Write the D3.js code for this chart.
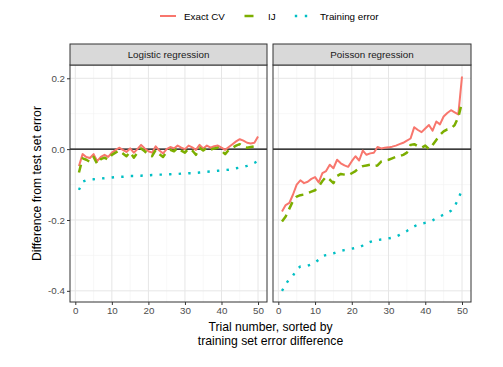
<!DOCTYPE html>
<html><head><meta charset="utf-8">
<script src="https://cdn.jsdelivr.net/npm/d3@7"></script>
<style>body{margin:0;background:#fff}svg{display:block;font-family:"Liberation Sans",Arial,Helvetica,sans-serif}</style>
</head><body><svg id="c" width="503" height="367"></svg>
<script>
const trials = d3.range(1, 51);
const panels = ["Logistic regression", "Poisson regression"];
const seriesNames = ["Exact CV", "IJ", "Training error"];
const xTicks = [0, 10, 20, 30, 40, 50];
const yTicks = [-0.4, -0.2, 0.0, 0.2];

const logisticExactCV = [-0.048,-0.014,-0.022,-0.025,-0.014,-0.034,-0.022,-0.016,-0.022,-0.010,
 -0.003,0.004,-0.002,-0.008,0.002,-0.010,0.000,0.012,0.002,-0.006,
 -0.010,0.008,-0.004,-0.012,0.000,0.006,0.002,0.010,0.004,0.000,
 0.010,0.005,-0.002,0.012,0.002,0.010,0.004,0.008,0.010,0.004,
 -0.002,0.006,0.014,0.022,0.028,0.024,0.018,0.016,0.018,0.036];
const logisticIJ = [-0.066,-0.026,-0.030,-0.036,-0.022,-0.042,-0.028,-0.024,-0.030,-0.016,
 -0.010,-0.004,-0.012,-0.020,-0.008,-0.024,-0.010,0.002,-0.006,-0.016,
 -0.020,-0.002,-0.014,-0.022,-0.008,-0.002,-0.006,0.004,-0.004,-0.010,
 0.002,-0.004,-0.016,0.004,-0.004,0.004,-0.002,0.002,0.004,-0.004,
 -0.014,-0.002,0.004,0.010,0.014,0.006,0.004,0.006,0.008,0.012];
const logisticTraining = [-0.115,-0.092,-0.088,-0.086,-0.085,-0.084,-0.083,-0.082,-0.081,-0.080,
 -0.079,-0.078,-0.078,-0.077,-0.076,-0.076,-0.075,-0.075,-0.074,-0.074,
 -0.073,-0.073,-0.072,-0.072,-0.071,-0.071,-0.070,-0.070,-0.069,-0.069,
 -0.068,-0.068,-0.067,-0.066,-0.065,-0.064,-0.063,-0.062,-0.061,-0.060,
 -0.059,-0.058,-0.056,-0.054,-0.052,-0.050,-0.047,-0.043,-0.039,-0.033];
const poissonExactCV = [-0.176,-0.158,-0.152,-0.128,-0.100,-0.088,-0.096,-0.092,-0.084,-0.079,
 -0.094,-0.068,-0.062,-0.044,-0.054,-0.030,-0.040,-0.046,-0.050,-0.034,
 -0.020,-0.032,-0.004,-0.016,-0.012,-0.010,0.006,0.002,0.004,0.005,
 0.007,0.010,0.014,0.018,0.024,0.030,0.062,0.054,0.048,0.058,
 0.068,0.052,0.078,0.070,0.092,0.102,0.110,0.104,0.098,0.205];
const poissonIJ = [-0.204,-0.190,-0.168,-0.146,-0.134,-0.130,-0.128,-0.124,-0.120,-0.116,
 -0.106,-0.090,-0.078,-0.086,-0.096,-0.076,-0.070,-0.072,-0.074,-0.068,
 -0.062,-0.054,-0.048,-0.046,-0.044,-0.048,-0.046,-0.035,-0.032,-0.030,
 -0.026,-0.022,-0.020,-0.016,-0.010,0.012,0.014,0.008,0.004,0.010,
 0.000,0.012,0.026,0.040,0.050,0.056,0.058,0.068,0.090,0.132];
const poissonTraining = [-0.400,-0.382,-0.366,-0.357,-0.340,-0.331,-0.330,-0.329,-0.325,-0.320,
 -0.312,-0.302,-0.299,-0.297,-0.294,-0.290,-0.287,-0.285,-0.283,-0.281,
 -0.279,-0.277,-0.272,-0.266,-0.262,-0.259,-0.257,-0.255,-0.254,-0.252,
 -0.250,-0.247,-0.242,-0.237,-0.231,-0.224,-0.218,-0.213,-0.210,-0.208,
 -0.206,-0.201,-0.195,-0.190,-0.185,-0.180,-0.174,-0.162,-0.140,-0.115];

const panelData = [
  [logisticExactCV, logisticIJ, logisticTraining],
  [poissonExactCV, poissonIJ, poissonTraining]
];
const colors = ["#F8766D", "#7CAE00", "#00BFC4"];
const widths = [2.0, 2.5, 2.4];
const dashes = [null, "8,6", "2.4,7.2"];

const svg = d3.select("#c");
const plotTop = 65, plotBottom = 302, stripTop = 44;
const panelX = [[70, 267], [273, 471]];
const y = d3.scaleLinear().domain([-0.4315, 0.2375]).range([plotBottom, plotTop]);
const tickFont = 9.8;

panels.forEach((name, pi) => {
  const [x0, x1] = panelX[pi];
  const x = d3.scaleLinear().domain([-1.45, 52.45]).range([x0, x1]);
  const g = svg.append("g");
  [5,15,25,35,45].forEach(v => g.append("line").attr("x1", x(v)).attr("x2", x(v)).attr("y1", plotTop).attr("y2", plotBottom).attr("stroke", "#f3f3f3").attr("stroke-width", 0.6));
  [-0.3,-0.1,0.1].forEach(v => g.append("line").attr("x1", x0).attr("x2", x1).attr("y1", y(v)).attr("y2", y(v)).attr("stroke", "#f3f3f3").attr("stroke-width", 0.6));
  xTicks.forEach(v => g.append("line").attr("x1", x(v)).attr("x2", x(v)).attr("y1", plotTop).attr("y2", plotBottom).attr("stroke", "#e6e6e6").attr("stroke-width", 1));
  yTicks.forEach(v => g.append("line").attr("x1", x0).attr("x2", x1).attr("y1", y(v)).attr("y2", y(v)).attr("stroke", "#e6e6e6").attr("stroke-width", 1));
  g.append("line").attr("x1", x0).attr("x2", x1).attr("y1", y(0)).attr("y2", y(0)).attr("stroke", "#000").attr("stroke-width", 1.1);
  const line = d3.line().x((d, i) => x(trials[i])).y(d => y(d));
  panelData[pi].forEach((vals, si) => {
    const p = g.append("path").datum(vals).attr("d", line).attr("fill", "none")
      .attr("stroke", colors[si]).attr("stroke-width", widths[si]).attr("stroke-linejoin", "round");
    if (dashes[si]) p.attr("stroke-dasharray", dashes[si]);
  });
  g.append("rect").attr("x", x0).attr("y", plotTop).attr("width", x1 - x0).attr("height", plotBottom - plotTop)
    .attr("fill", "none").attr("stroke", "#333").attr("stroke-width", 1);
  g.append("rect").attr("x", x0).attr("y", stripTop).attr("width", x1 - x0).attr("height", plotTop - stripTop)
    .attr("fill", "#d9d9d9").attr("stroke", "#333").attr("stroke-width", 1);
  g.append("text").attr("x", (x0 + x1) / 2).attr("y", (stripTop + plotTop) / 2 + 3.5).attr("text-anchor", "middle")
    .attr("font-size", tickFont).attr("fill", "#1a1a1a").text(name);
  const xa = g.append("g").attr("transform", `translate(0,${plotBottom})`)
    .call(d3.axisBottom(x).tickValues(xTicks).tickSize(3).tickPadding(2).tickFormat(d3.format("d")));
  xa.select(".domain").remove();
  xa.selectAll("line").attr("stroke", "#333");
  xa.selectAll("text").attr("font-size", tickFont).attr("fill", "#4d4d4d").attr("font-family", "Liberation Sans, Arial, sans-serif");
  if (pi === 0) {
    const ya = g.append("g").attr("transform", `translate(${x0},0)`)
      .call(d3.axisLeft(y).tickValues(yTicks).tickSize(3).tickPadding(2).tickFormat(d3.format(".1f")));
    ya.select(".domain").remove();
    ya.selectAll("line").attr("stroke", "#333");
    ya.selectAll("text").attr("font-size", tickFont).attr("fill", "#4d4d4d").attr("font-family", "Liberation Sans, Arial, sans-serif")
      .text(d => d3.format(".1f")(d).replace("−", "-"));
  }
});

svg.append("text").attr("transform", `translate(41,${(plotTop + plotBottom) / 2}) rotate(-90)`).attr("text-anchor", "middle")
  .attr("font-size", 12.2).attr("fill", "#000").text("Difference from test set error");
svg.append("text").attr("x", 270.5).attr("y", 331).attr("text-anchor", "middle").attr("font-size", 12.2).attr("fill", "#000").text("Trial number, sorted by");
svg.append("text").attr("x", 270.5).attr("y", 345).attr("text-anchor", "middle").attr("font-size", 12.2).attr("fill", "#000").text("training set error difference");

const leg = svg.append("g");
const ly = 16;
const textX = [184, 268, 320];
leg.append("line").attr("x1", 160).attr("x2", 176).attr("y1", ly).attr("y2", ly).attr("stroke", colors[0]).attr("stroke-width", widths[0]);
leg.append("line").attr("x1", 244.5).attr("x2", 253.5).attr("y1", ly).attr("y2", ly).attr("stroke", colors[1]).attr("stroke-width", widths[1]);
leg.append("line").attr("x1", 294.8).attr("x2", 310).attr("y1", ly).attr("y2", ly).attr("stroke", colors[2]).attr("stroke-width", widths[2]).attr("stroke-dasharray", "2.4,7.6");
seriesNames.forEach((n, i) => leg.append("text").attr("x", textX[i]).attr("y", ly + 3.5).attr("font-size", tickFont).attr("fill", "#000").text(n));
</script></body></html>
